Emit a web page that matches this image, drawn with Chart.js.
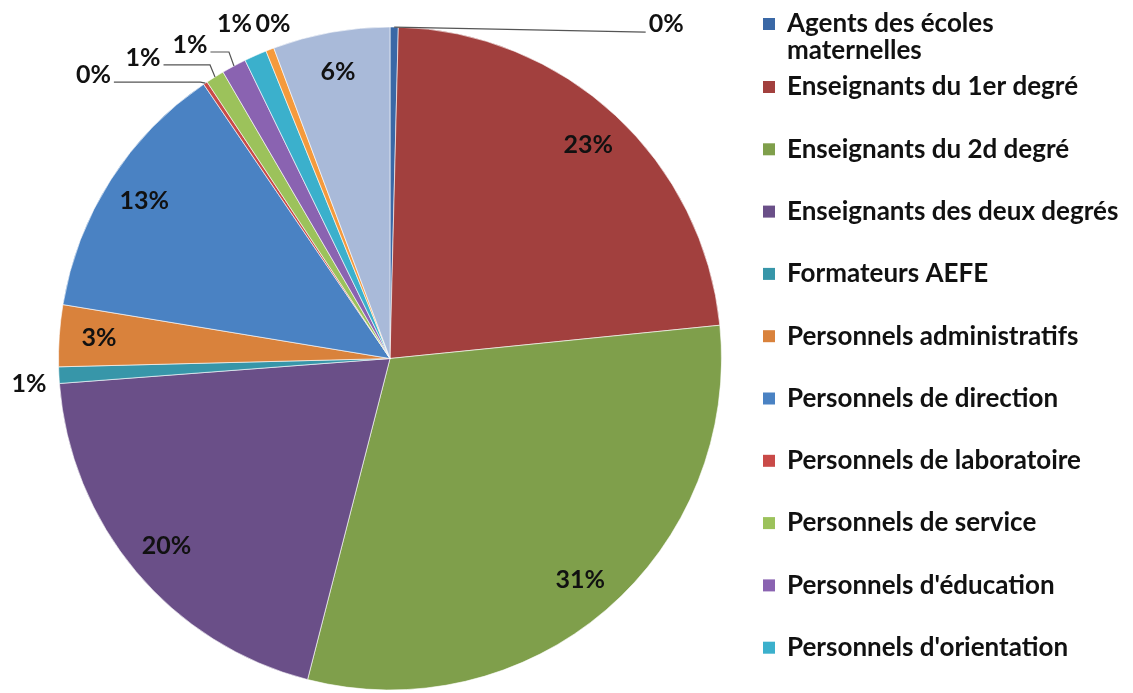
<!DOCTYPE html>
<html>
<head>
<meta charset="utf-8">
<script src="https://cdn.jsdelivr.net/npm/chart.js@4/dist/chart.umd.min.js"></script>
<style>
  html, body { margin: 0; padding: 0; background: #fff; }
  #wrap { width: 1133px; height: 693px; position: relative; }
</style>
</head>
<body>
<div id="wrap"><canvas id="myChart"></canvas></div>
<script>
// categories (the last two are cut off from the legend in the original)
var categories = [
  ['Agents des écoles', 'maternelles'],
  'Enseignants du 1er degré',
  'Enseignants du 2d degré',
  'Enseignants des deux degrés',
  'Formateurs AEFE',
  'Personnels administratifs',
  'Personnels de direction',
  'Personnels de laboratoire',
  'Personnels de service',
  "Personnels d'éducation",
  "Personnels d'orientation",
  'Personnels sociaux et de santé',
  'Autres'
];
// share of each category, in %
var shares = [0.4, 23.0, 30.6, 19.8, 0.8, 3.0, 12.9, 0.2, 0.9, 1.2, 1.1, 0.4, 5.7];
var legendCount = 11;

var colors = [
  '#3a68a6', '#a2403e', '#7f9f4b', '#6a4f88', '#3796a9', '#d9823c',
  '#4a82c3', '#c94a48', '#9cc25b', '#8a63b1', '#3bb0cc', '#f59a3c', '#a9bad9'
];

// label offsets from the slice edge for small slices, others go inside
var outsideLabels = {
  0: { dx: 272, dy: -3, line: 'straight' },
  4: { dx: -30, dy: 9 },
  7: { dx: -112, dy: -8, line: 'elbow' },
  8: { dx: -72, dy: -19, line: 'elbow' },
  9: { dx: -44, dy: -21, line: 'elbow' },
  10: { dx: -21, dy: -32 },
  11: { dx: 3, dy: -26 }
};

var labelFont = 'bold 25px Lato';
var legendFont = 'bold 26px Lato';

var sliceLabels = {
  id: 'sliceLabels',
  afterDatasetsDraw: function (chart) {
    var c = chart.ctx;
    var meta = chart.getDatasetMeta(0);
    var total = shares.reduce(function (a, b) { return a + b; }, 0);
    c.save();
    c.font = labelFont;
    c.fillStyle = '#111';
    c.textAlign = 'center';
    c.textBaseline = 'middle';
    meta.data.forEach(function (arc, i) {
      var txt = Math.round(shares[i] / total * 100) + '%';
      var mid = (arc.startAngle + arc.endAngle) / 2;
      var o = outsideLabels[i];
      if (!o) {
        var r = arc.outerRadius * 0.88;
        c.fillText(txt, arc.x + Math.cos(mid) * r, arc.y + Math.sin(mid) * r);
        return;
      }
      var ex = arc.x + Math.cos(mid) * arc.outerRadius;
      var ey = arc.y + Math.sin(mid) * arc.outerRadius;
      var lx = ex + o.dx, ly = ey + o.dy;
      c.fillText(txt, lx, ly);
      if (o.line) {
        var w = c.measureText(txt).width;
        c.strokeStyle = '#555';
        c.lineWidth = 1.2;
        c.beginPath();
        if (o.line === 'straight') {
          c.moveTo(lx - w / 2 - 3, ly + 8);
          c.lineTo(ex, ey);
        } else {
          c.moveTo(lx + w / 2 + 3, ly + 7);
          c.lineTo(ex - 5, ly + 7);
          c.lineTo(ex, ey);
        }
        c.stroke();
      }
    });
    c.restore();
  }
};

var sideLegend = {
  id: 'sideLegend',
  afterDraw: function (chart) {
    var c = chart.ctx;
    var x = 763, y = 24, step = 62.3, lineH = 27;
    c.save();
    c.font = legendFont;
    c.textBaseline = 'middle';
    c.textAlign = 'left';
    for (var i = 0; i < legendCount; i++) {
      var lines = [].concat(categories[i]);
      c.fillStyle = colors[i];
      c.fillRect(x, y - 6, 12, 12);
      c.fillStyle = '#111';
      lines.forEach(function (t, k) { c.fillText(t, x + 24, y + k * lineH); });
      y += (i === 0 ? 63 : step);
    }
    c.restore();
  }
};

var ctx = document.getElementById('myChart');

var myChart = new Chart(ctx, {
  type: 'pie',
  data: {
    labels: categories,
    datasets: [{
      data: shares,
      backgroundColor: colors,
      borderColor: 'rgba(255,255,255,0.6)',
      borderWidth: 1
    }]
  },
  options: {
    responsive: true,
    maintainAspectRatio: false,
    animation: false,
    layout: { padding: { left: 58, right: 411, top: 26, bottom: 2 } },
    plugins: {
      legend: { display: false },
      tooltip: { enabled: false }
    }
  },
  plugins: [sliceLabels, sideLegend]
});
</script>
</body>
</html>
